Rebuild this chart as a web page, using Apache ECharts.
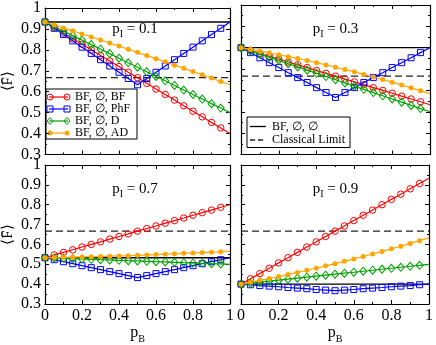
<!DOCTYPE html>
<html>
<head>
<meta charset="utf-8">
<script src="https://cdn.jsdelivr.net/npm/echarts@6/dist/echarts.min.js"></script>
<style>
  html, body { margin: 0; padding: 0; background: #fff; }
  #chart { width: 436px; height: 345px; }
</style>
</head>
<body>
<div id="chart"></div>
<script>
// noise strength on Bob's side
const pB = [0, 0.05, 0.1, 0.15, 0.2, 0.25, 0.3, 0.35, 0.4, 0.45, 0.5,
            0.55, 0.6, 0.65, 0.7, 0.75, 0.8, 0.85, 0.9, 0.95, 1];

const pILabels = ['0.1', '0.3', '0.7', '0.9'];
const noNoiseF = [0.933, 0.8, 0.533, 0.4];   // BF, ∅, ∅
const classicalLimit = 0.667;

const xTicks = [0, 0.2, 0.4, 0.6, 0.8, 1];
const yTicks = [0.3, 0.4, 0.5, 0.6, 0.7, 0.8, 0.9, 1];

// pI = 0.1
const bf01  = [0.933, 0.907, 0.880, 0.853, 0.827, 0.800, 0.773, 0.747, 0.720, 0.693, 0.667, 0.640, 0.613, 0.587, 0.560, 0.533, 0.507, 0.480, 0.453, 0.427, 0.400];
const phf01 = [0.933, 0.903, 0.873, 0.843, 0.813, 0.783, 0.753, 0.723, 0.693, 0.663, 0.633, 0.663, 0.693, 0.723, 0.753, 0.783, 0.813, 0.843, 0.873, 0.903, 0.933];
const d01   = [0.933, 0.912, 0.890, 0.868, 0.847, 0.825, 0.803, 0.782, 0.760, 0.738, 0.717, 0.695, 0.673, 0.652, 0.630, 0.608, 0.587, 0.565, 0.543, 0.522, 0.500];
const ad01  = [0.933, 0.919, 0.905, 0.891, 0.876, 0.862, 0.847, 0.833, 0.818, 0.803, 0.788, 0.773, 0.758, 0.743, 0.727, 0.712, 0.696, 0.681, 0.665, 0.649, 0.633];
// pI = 0.3
const bf03  = [0.800, 0.787, 0.773, 0.760, 0.747, 0.733, 0.720, 0.707, 0.693, 0.680, 0.667, 0.653, 0.640, 0.627, 0.613, 0.600, 0.587, 0.573, 0.560, 0.547, 0.533];
const phf03 = [0.800, 0.777, 0.753, 0.730, 0.707, 0.683, 0.660, 0.637, 0.613, 0.590, 0.567, 0.590, 0.613, 0.637, 0.660, 0.683, 0.707, 0.730, 0.753, 0.777, 0.800];
const d03   = [0.800, 0.785, 0.770, 0.755, 0.740, 0.725, 0.710, 0.695, 0.680, 0.665, 0.650, 0.635, 0.620, 0.605, 0.590, 0.575, 0.560, 0.545, 0.530, 0.515, 0.500];
const ad03  = [0.800, 0.792, 0.784, 0.776, 0.767, 0.758, 0.749, 0.740, 0.730, 0.719, 0.709, 0.698, 0.687, 0.675, 0.663, 0.651, 0.638, 0.626, 0.612, 0.599, 0.585];
// pI = 0.7
const bf07  = [0.533, 0.547, 0.560, 0.573, 0.587, 0.600, 0.613, 0.627, 0.640, 0.653, 0.667, 0.680, 0.693, 0.707, 0.720, 0.733, 0.747, 0.760, 0.773, 0.787, 0.800];
const phf07 = [0.533, 0.523, 0.513, 0.503, 0.493, 0.483, 0.473, 0.463, 0.453, 0.443, 0.433, 0.443, 0.453, 0.463, 0.473, 0.483, 0.493, 0.503, 0.513, 0.523, 0.533];
const d07   = [0.533, 0.532, 0.530, 0.528, 0.527, 0.525, 0.523, 0.522, 0.520, 0.518, 0.517, 0.515, 0.513, 0.512, 0.510, 0.508, 0.507, 0.505, 0.503, 0.502, 0.500];
const ad07  = [0.533, 0.534, 0.535, 0.536, 0.537, 0.538, 0.539, 0.541, 0.542, 0.543, 0.545, 0.547, 0.549, 0.551, 0.553, 0.555, 0.557, 0.559, 0.561, 0.563, 0.566];
// pI = 0.9
const bf09  = [0.400, 0.427, 0.453, 0.480, 0.507, 0.533, 0.560, 0.587, 0.613, 0.640, 0.667, 0.693, 0.720, 0.747, 0.773, 0.800, 0.827, 0.853, 0.880, 0.907, 0.933];
const phf09 = [0.400, 0.397, 0.393, 0.390, 0.387, 0.383, 0.380, 0.377, 0.373, 0.370, 0.367, 0.370, 0.373, 0.377, 0.380, 0.383, 0.387, 0.390, 0.393, 0.397, 0.400];
const d09   = [0.400, 0.405, 0.410, 0.415, 0.420, 0.425, 0.430, 0.435, 0.440, 0.445, 0.450, 0.455, 0.460, 0.465, 0.470, 0.475, 0.480, 0.485, 0.490, 0.495, 0.500];
const ad09  = [0.400, 0.409, 0.419, 0.428, 0.438, 0.448, 0.459, 0.470, 0.480, 0.492, 0.503, 0.515, 0.527, 0.539, 0.552, 0.565, 0.578, 0.591, 0.605, 0.619, 0.633];

const curves = [
  [bf01, phf01, d01, ad01],
  [bf03, phf03, d03, ad03],
  [bf07, phf07, d07, ad07],
  [bf09, phf09, d09, ad09]
];

const serif = 'Liberation Serif';
const names = ['BF, ∅, BF', 'BF, ∅, PhF', 'BF, ∅, D', 'BF, ∅, AD'];
const refNames = ['BF, ∅, ∅', 'Classical Limit'];
const colors = ['#ff0000', '#0000ff', '#00a000', '#ffa500'];
const symbols = ['circle', 'rect', 'diamond', 'circle'];
const symSizes = [6.5, 6, [7, 8], 5];
const dash = [7, 4];

const grids = [
  {left: 40,  top: 5,   width: 190, height: 149.5},
  {left: 241, top: 5,   width: 189, height: 149.5},
  {left: 40,  top: 165, width: 190, height: 149.5},
  {left: 241, top: 165, width: 189, height: 149.5}
];

const subRich = {
  p: {fontFamily: serif, fontSize: 16, color: '#000', lineHeight: 22},
  s: {fontFamily: serif, fontSize: 10, color: '#000', lineHeight: 10, verticalAlign: 'bottom'}
};

const xAxes = [], yAxes = [], series = [], graphics = [];

grids.forEach((g, i) => {
  const bottomRow = i >= 2, leftCol = i % 2 === 0;
  ['bottom', 'top'].forEach(pos => {
    const main = pos === 'bottom';
    xAxes.push({
      type: 'value', gridIndex: i, position: pos,
      min: xTicks[0], max: xTicks[xTicks.length - 1], interval: 0.2,
      axisLine: {show: true, onZero: false, lineStyle: {color: '#000', width: 1.2}},
      axisTick: {show: true, inside: true, length: 4, lineStyle: {color: '#000'}},
      minorTick: {show: true, splitNumber: 2, length: 2, lineStyle: {color: '#000'}},
      splitLine: {show: false},
      axisLabel: {
        show: main && bottomRow, margin: 4, showMinLabel: true, showMaxLabel: true,
        fontFamily: serif, fontSize: 16, color: '#000',
        formatter: v => (v === 0 || v === 1) ? String(v) : v.toFixed(1)
      },
      name: main && bottomRow ? '{p|p}{s|B}' : '',
      nameLocation: 'middle', nameGap: 18,
      nameTextStyle: {rich: subRich}
    });
  });
  ['left', 'right'].forEach(pos => {
    const main = pos === 'left';
    yAxes.push({
      type: 'value', gridIndex: i, position: pos,
      min: yTicks[0], max: yTicks[yTicks.length - 1], interval: 0.1,
      axisLine: {show: true, onZero: false, lineStyle: {color: '#000', width: 1.2}},
      axisTick: {show: true, inside: true, length: 4, lineStyle: {color: '#000'}},
      minorTick: {show: true, splitNumber: 2, length: 2, lineStyle: {color: '#000'}},
      splitLine: {show: false},
      axisLabel: {
        show: main && leftCol, margin: 4, showMinLabel: true, showMaxLabel: true,
        fontFamily: serif, fontSize: 16, color: '#000',
        formatter: v => Math.abs(v - 1) < 1e-9 ? '1' : v.toFixed(1)
      },
      name: main && leftCol ? '⟨F̄⟩' : '',
      nameLocation: 'middle', nameRotate: 90, nameGap: 29,
      nameTextStyle: {fontFamily: serif, fontSize: 15, color: '#000'}
    });
  });

  const xi = 2 * i, yi = 2 * i;
  const last = pB.length - 1;

  series.push({
    name: refNames[0], type: 'line', xAxisIndex: xi, yAxisIndex: yi,
    data: [[pB[0], noNoiseF[i]], [pB[last], noNoiseF[i]]],
    symbol: 'none', lineStyle: {color: '#000', width: 1.3},
    z: 2, silent: true
  });
  series.push({
    name: refNames[1], type: 'line', xAxisIndex: xi, yAxisIndex: yi,
    data: [[pB[0], classicalLimit], [pB[last], classicalLimit]],
    symbol: 'none', lineStyle: {color: '#222', width: 1.3, type: dash},
    z: 2, silent: true
  });

  curves[i].forEach((vals, k) => {
    series.push({
      name: names[k], type: 'line', xAxisIndex: xi, yAxisIndex: yi,
      data: pB.map((x, j) => j === last ? {value: [x, vals[j]], symbol: 'none'} : [x, vals[j]]),
      symbol: symbols[k], symbolSize: symSizes[k], showSymbol: true,
      lineStyle: {color: colors[k], width: 1.2},
      itemStyle: k === 3
        ? {color: colors[k], borderWidth: 0}
        : {color: 'transparent', borderColor: colors[k], borderWidth: 1},
      z: 3 + k, silent: true
    });
  });

  graphics.push({
    type: 'text',
    x: g.left + g.width / 2, y: g.top + 24,
    style: {
      text: '{p|p}{s|I}{p| = ' + pILabels[i] + '}',
      rich: {
        p: {fontFamily: serif, fontSize: 15, fill: '#000', lineHeight: 20},
        s: {fontFamily: serif, fontSize: 10, fill: '#000', lineHeight: 10, verticalAlign: 'bottom'}
      },
      align: 'center', verticalAlign: 'middle'
    },
    z: 10
  });
});

// legend boxes drawn by hand so the keys look like "o—o"
function keySymbol(k, cx, cy) {
  const c = colors[k];
  if (k === 0) return {type: 'circle', shape: {cx, cy, r: 3}, style: {fill: 'none', stroke: c, lineWidth: 1}};
  if (k === 1) return {type: 'rect', shape: {x: cx - 3, y: cy - 3, width: 6, height: 6}, style: {fill: 'none', stroke: c, lineWidth: 1}};
  if (k === 2) return {type: 'polygon', shape: {points: [[cx, cy - 3.5], [cx + 3, cy], [cx, cy + 3.5], [cx - 3, cy]]}, style: {fill: 'none', stroke: c, lineWidth: 1}};
  return {type: 'circle', shape: {cx, cy, r: 2.5}, style: {fill: c}};
}

const legendFont = '12px "Liberation Serif"';
const leg1 = {type: 'group', z: 30, children: [
  {type: 'rect', shape: {x: 46, y: 89, width: 91, height: 50}, style: {fill: '#fff', stroke: '#000', lineWidth: 1}}
]};
names.forEach((nm, k) => {
  const cy = 97 + 12 * k;
  leg1.children.push({type: 'line', shape: {x1: 49, y1: cy, x2: 68, y2: cy}, style: {stroke: colors[k], lineWidth: 1.2}});
  leg1.children.push(keySymbol(k, 50, cy));
  leg1.children.push(keySymbol(k, 67, cy));
  leg1.children.push({type: 'text', x: 75, y: cy, style: {text: nm, font: legendFont, fill: '#000', verticalAlign: 'middle'}});
});

const leg2 = {type: 'group', z: 30, children: [
  {type: 'rect', shape: {x: 247, y: 117, width: 103, height: 30.5}, style: {fill: '#fff', stroke: '#000', lineWidth: 1}}
]};
refNames.forEach((nm, k) => {
  const cy = 126.5 + 13.5 * k;
  leg2.children.push({type: 'line', shape: {x1: 250, y1: cy, x2: 266, y2: cy},
    style: {stroke: k === 0 ? '#000' : '#222', lineWidth: 1.3, lineDash: k === 0 ? null : [5, 3]}});
  leg2.children.push({type: 'text', x: 272, y: cy, style: {text: nm, font: legendFont, fill: '#000', verticalAlign: 'middle'}});
});
graphics.push(leg1, leg2);

const chart = echarts.init(document.getElementById('chart'), null, {renderer: 'canvas'});
chart.setOption({
  backgroundColor: '#fff',
  animation: false,
  grid: grids.map(g => Object.assign({containLabel: false}, g)),
  xAxis: xAxes,
  yAxis: yAxes,
  graphic: graphics,
  series: series
});
</script>
</body>
</html>
